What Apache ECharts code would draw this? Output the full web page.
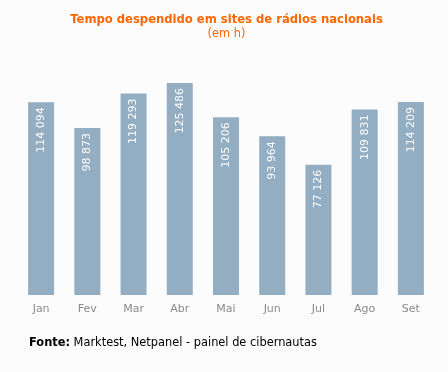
<!DOCTYPE html>
<html><head><meta charset="utf-8">
<script src="https://cdn.jsdelivr.net/npm/echarts@6/dist/echarts.min.js"></script>
<style>html,body{margin:0;padding:0;background:#fcfcfc}#c{width:448px;height:372px}</style>
</head><body><div id="c"></div>
<script>
var categories = ['Jan','Fev','Mar','Abr','Mai','Jun','Jul','Ago','Set'];
var values = [114094, 98873, 119293, 125486, 105206, 93964, 77126, 109831, 114209];
function fmt(v){ return String(v).replace(/\B(?=(\d{3})+(?!\d))/g,' '); }
var chart = echarts.init(document.getElementById('c'));
chart.setOption({
  backgroundColor:'#fcfcfc',
  animation:false,
  title:[{
    text:'Tempo despendido em sites de rádios nacionais',
    subtext:'(em h)',
    left:226.5, top:14, textAlign:'center', padding:0,
    textStyle:{color:'#ff6600',fontSize:11.6,fontWeight:'bold',fontFamily:'DejaVu Sans'},
    subtextStyle:{color:'#ff6600',fontSize:11.4,fontFamily:'DejaVu Sans'},
    itemGap:3
  },{
    text:'{b|Fonte:} Marktest, Netpanel - painel de cibernautas',
    left:29, top:338, padding:0,
    textStyle:{fontSize:11.4,color:'#000',fontWeight:'normal',fontFamily:'DejaVu Sans',
      rich:{b:{fontWeight:'bold',fontSize:11.4,fontFamily:'DejaVu Sans',color:'#000'}}}
  }],
  grid:{left:18,right:14,top:41.6,bottom:77},
  xAxis:{type:'category',data:categories,
    axisLine:{show:false},axisTick:{show:false},
    axisLabel:{color:'#8a8a8a',fontSize:11,fontFamily:'DejaVu Sans',margin:9}},
  yAxis:{type:'value',min:0,max:150000,show:false,splitLine:{show:false}},
  series:[{type:'bar',data:values,barWidth:26,
    itemStyle:{color:'#93adc3'},
    label:{show:true,position:'insideTop',rotate:90,align:'right',verticalAlign:'middle',
      distance:5,color:'#fff',fontSize:11,fontFamily:'DejaVu Sans',
      formatter:function(p){return fmt(p.value);}}}]
});
</script></body></html>
